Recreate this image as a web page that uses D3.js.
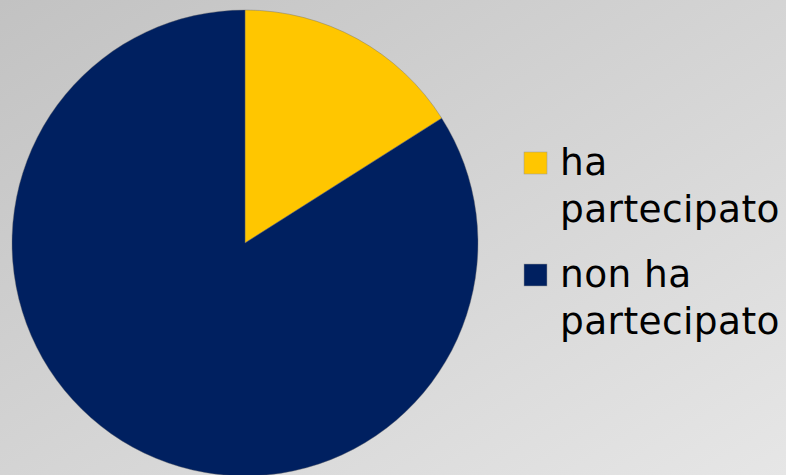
<!DOCTYPE html>
<html><head><meta charset="utf-8">
<script src="https://cdn.jsdelivr.net/npm/d3@7"></script>
<style>html,body{margin:0;padding:0;overflow:hidden;}</style>
</head><body>
<svg id="c" width="786" height="475"></svg>
<script>
const categories = ["ha partecipato", "non ha partecipato"];
const legendLines = [["ha", "partecipato"], ["non ha", "partecipato"]];
const values = [16, 84];
const colors = ["#FFC600", "#002060"];

const svg = d3.select("#c");
const defs = svg.append("defs");
const grad = defs.append("linearGradient").attr("id", "bg")
  .attr("x1", "0%").attr("y1", "0%").attr("x2", "100%").attr("y2", "100%");
grad.append("stop").attr("offset", "0%").attr("stop-color", "#c2c2c2");
grad.append("stop").attr("offset", "100%").attr("stop-color", "#e6e6e6");
svg.append("rect").attr("width", 786).attr("height", 475).attr("fill", "url(#bg)");

const cx = 245, cy = 243, r = 233;
const pie = d3.pie().sort(null).value(d => d)(values);
const arc = d3.arc().innerRadius(0).outerRadius(r);
const color = d3.scaleOrdinal().domain(categories).range(colors);

svg.append("g").attr("transform", `translate(${cx},${cy})`)
  .selectAll("path").data(pie).join("path")
  .attr("d", arc)
  .attr("fill", (d, i) => color(categories[i]))
  .attr("stroke", "#6a6a6a").attr("stroke-width", 0.4);

const lg = svg.append("g");
const itemY = [175, 287];
categories.forEach((c, i) => {
  const g = lg.append("g");
  g.append("rect").attr("x", 524).attr("y", itemY[i] - 23).attr("width", 23).attr("height", 22)
    .attr("fill", color(c)).attr("stroke", "#999").attr("stroke-width", 0.5);
  const t = g.append("text").attr("x", 560).attr("y", itemY[i])
    .attr("font-family", "DejaVu Sans").attr("font-size", 37.5).attr("letter-spacing", 0.4).attr("fill", "#000");
  legendLines[i].forEach((ln, j) => {
    t.append("tspan").attr("x", 560).attr("dy", j === 0 ? 0 : 47).text(ln);
  });
});
</script>
</body></html>
